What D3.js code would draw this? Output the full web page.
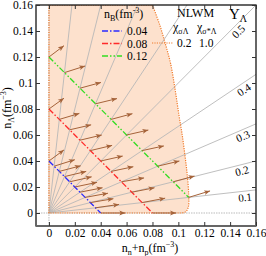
<!DOCTYPE html>
<html>
<head>
<meta charset="utf-8">
<script src="https://cdn.jsdelivr.net/npm/d3@7"></script>
<style>
  body { margin: 0; background: #fff; }
  text { font-family: "Liberation Serif", "Times New Roman", serif; fill: #000; }
</style>
</head>
<body>
<div id="chart"></div>
<script>
// ---- data ----
var nB = [0.04, 0.08, 0.12];                 // baryon density lines
var nBColors = ["#2a2aff", "#ff2a2a", "#33dd22"];
var nBDash = ["6,2,1.5,2", "6,2,1.5,2", "6,2,1.5,2,1.5,2"];
var nBxEnd = [0.04, 0.08, 0.108];           // where each line stops (boundary)

var yLambda = [0.1, 0.2, 0.3, 0.4, 0.5, 0.6, 0.7, 0.8, 0.9];   // gray rays
var yLabels = ["0.1", "0.2", "0.3", "0.4", "0.5"];
var yLabelX = [0.151, 0.148, 0.148, 0.148, 0.143];

// arrows start at Y_Lambda = 1.0, 0.9, ..., 0.0 on each nB line
var arrowY = [1.0, 0.9, 0.8, 0.7, 0.6, 0.5, 0.4, 0.3, 0.2, 0.1, 0.0];
var arrowDx = [
  [0.0116, 0.0160, 0.0165, 0.0168, 0.0170, 0.0172, 0.0174, 0.0176, 0.0178, 0.0182, 0.0190],
  [0.0116, 0.0155, 0.0166, 0.0168, 0.0168, 0.0170, 0.0172, 0.0175, 0.0176, 0.0178, 0.0182],
  [0.0116, 0.0160, 0.0162, 0.0166, 0.0165, 0.0168, 0.0168, 0.0168, 0.0165, 0.0165]
];
var arrowDy = [
  [0.0085, 0.0050, 0.0043, 0.0040, 0.0038, 0.0036, 0.0034, 0.0032, 0.0030, 0.0026, 0.0],
  [0.0083, 0.0046, 0.0038, 0.0040, 0.0040, 0.0038, 0.0036, 0.0030, 0.0034, 0.0034, 0.0],
  [0.0087, 0.0051, 0.0044, 0.0040, 0.0044, 0.0038, 0.0036, 0.0040, 0.0044, 0.0050]
];

// boundary of the shaded region (right edge, top -> bottom)
var boundX = [0.080, 0.0855, 0.0900, 0.0940, 0.0975, 0.1005, 0.1030, 0.1050, 0.1068, 0.1080, 0.1078, 0.1060, 0.1025];
var boundY = [0.160, 0.145, 0.130, 0.115, 0.095, 0.075, 0.060, 0.045, 0.030, 0.014, 0.005, 0.0012, 0.0];

var xTicks = [0, 0.02, 0.04, 0.06, 0.08, 0.1, 0.12, 0.14, 0.16];
var yTicks = [0, 0.02, 0.04, 0.06, 0.08, 0.1, 0.12, 0.14, 0.16];

var W = 266, H = 256;
var margin = {left: 36, right: 10, top: 5, bottom: 30};

var svg = d3.select("#chart").append("svg")
  .attr("width", W).attr("height", H);

var x = d3.scaleLinear().domain([-0.01, 0.16]).range([margin.left, W - margin.right]);
var y = d3.scaleLinear().domain([-0.01, 0.16]).range([H - margin.bottom, margin.top]);

var defs = svg.append("defs");
defs.append("clipPath").attr("id", "clip")
  .append("rect")
  .attr("x", x(-0.01)).attr("y", y(0.16))
  .attr("width", x(0.16) - x(-0.01)).attr("height", y(-0.01) - y(0.16));

defs.append("marker")
  .attr("id", "head")
  .attr("markerUnits", "userSpaceOnUse")
  .attr("markerWidth", 8).attr("markerHeight", 6)
  .attr("refX", 6).attr("refY", 3)
  .attr("orient", "auto")
  .append("path")
  .attr("d", "M0,0.6 L6,3 L0,5.4 L1.5,3 Z")
  .attr("fill", "#a5633a");

var plot = svg.append("g").attr("clip-path", "url(#clip)");

// shaded region: straight left/bottom edges, smooth right edge
var boundPts = boundX.map(function(d, i) { return [d, boundY[i]]; });
var curve = d3.line().x(function(d) { return x(d[0]); }).y(function(d) { return y(d[1]); })
  .curve(d3.curveCatmullRom)(boundPts);
var regionPath = "M" + x(0) + "," + y(0) + "L" + x(0) + "," + y(0.16) +
  "L" + curve.slice(1) + "Z";

plot.append("path").attr("d", regionPath).attr("fill", "#fde1cd");

// axis reference lines x=0 and y=0
plot.append("line")
  .attr("x1", x(0)).attr("x2", x(0)).attr("y1", y(-0.01)).attr("y2", y(0.16))
  .attr("stroke", "#bbb").attr("stroke-width", 1).attr("stroke-dasharray", "1.5,1");
plot.append("line")
  .attr("x1", x(-0.01)).attr("x2", x(0.16)).attr("y1", y(0)).attr("y2", y(0))
  .attr("stroke", "#bbb").attr("stroke-width", 1).attr("stroke-dasharray", "1.5,1");

// constant Y_Lambda rays
plot.selectAll(".ray").data(yLambda).enter().append("line")
  .attr("class", "ray")
  .attr("x1", x(0)).attr("y1", y(0))
  .attr("x2", function(d) { var s = d / (1 - d); var xe = Math.min(0.2, 0.2 / s); return x(xe); })
  .attr("y2", function(d) { var s = d / (1 - d); var xe = Math.min(0.2, 0.2 / s); return y(xe * s); })
  .attr("stroke", "#b8b8b8").attr("stroke-width", 0.9);

// boundary dotted orange
plot.append("path").attr("d", regionPath)
  .attr("fill", "none")
  .attr("stroke", "#f07a2a").attr("stroke-width", 1.2)
  .attr("stroke-dasharray", "1.2,1.2");

// constant nB lines
nB.forEach(function(b, i) {
  plot.append("line")
    .attr("x1", x(0)).attr("y1", y(b))
    .attr("x2", x(nBxEnd[i])).attr("y2", y(b - nBxEnd[i]))
    .attr("stroke", nBColors[i]).attr("stroke-width", 1.3)
    .attr("stroke-dasharray", nBDash[i]);
});

// arrows
nB.forEach(function(b, i) {
  arrowDx[i].forEach(function(dx, j) {
    var x0 = b * (1 - arrowY[j]), y0 = b * arrowY[j];
    plot.append("line")
      .attr("x1", x(x0)).attr("y1", y(y0))
      .attr("x2", x(x0 + dx)).attr("y2", y(y0 + arrowDy[i][j]))
      .attr("stroke", "#a5633a").attr("stroke-width", 1)
      .attr("marker-end", "url(#head)");
  });
});

// Y_Lambda labels
yLabels.forEach(function(t, i) {
  var v = +t, s = v / (1 - v);
  var px = x(yLabelX[i]), py = y(yLabelX[i] * s);
  var ang = Math.atan2(y(s) - y(0), x(1) - x(0)) * 180 / Math.PI;
  svg.append("text")
    .attr("transform", "translate(" + px + "," + py + ") rotate(" + ang + ")")
    .attr("text-anchor", "middle")
    .attr("dy", 10)
    .style("font-size", "11px")
    .text(t);
});

// frame and ticks
svg.append("rect")
  .attr("x", x(-0.01)).attr("y", y(0.16))
  .attr("width", x(0.16) - x(-0.01)).attr("height", y(-0.01) - y(0.16))
  .attr("fill", "none").attr("stroke", "#000").attr("stroke-width", 1.2);
svg.append("line")
  .attr("x1", x(-0.01)).attr("x2", x(-0.01)).attr("y1", y(0.16)).attr("y2", y(-0.01))
  .attr("stroke", "#666").attr("stroke-width", 2);
svg.append("line")
  .attr("x1", x(-0.01)).attr("x2", x(0.16)).attr("y1", y(-0.01)).attr("y2", y(-0.01))
  .attr("stroke", "#666").attr("stroke-width", 2);

var fmt = function(d) { return d === 0 ? "0" : String(+d.toFixed(2)); };

svg.append("g").attr("transform", "translate(0," + y(-0.01) + ")")
  .call(d3.axisBottom(x).tickValues(xTicks).tickSizeInner(-4).tickSizeOuter(0).tickPadding(3).tickFormat(fmt))
  .call(function(g) { g.select(".domain").remove(); g.selectAll("line").attr("stroke", "#333");
    g.selectAll("text").style("font-size", "11.5px").style("font-family", "Liberation Serif, serif"); });
svg.append("g").attr("transform", "translate(0," + y(0.16) + ")")
  .call(d3.axisTop(x).tickValues(xTicks).tickSizeInner(-4).tickSizeOuter(0).tickFormat(""))
  .call(function(g) { g.select(".domain").remove(); g.selectAll("line").attr("stroke", "#333"); });
svg.append("g").attr("transform", "translate(" + x(-0.01) + ",0)")
  .call(d3.axisLeft(y).tickValues(yTicks).tickSizeInner(-4).tickSizeOuter(0).tickPadding(3).tickFormat(fmt))
  .call(function(g) { g.select(".domain").remove(); g.selectAll("line").attr("stroke", "#333");
    g.selectAll("text").style("font-size", "11.5px").style("font-family", "Liberation Serif, serif"); });
svg.append("g").attr("transform", "translate(" + x(0.16) + ",0)")
  .call(d3.axisRight(y).tickValues(yTicks).tickSizeInner(-4).tickSizeOuter(0).tickFormat(""))
  .call(function(g) { g.select(".domain").remove(); g.selectAll("line").attr("stroke", "#333"); });

// axis titles
var xt = svg.append("text").attr("x", 150).attr("y", 252).attr("text-anchor", "middle").style("font-size", "12px");
xt.append("tspan").text("n");
xt.append("tspan").attr("dy", 3).style("font-size", "8px").text("n");
xt.append("tspan").attr("dy", -3).text("+n");
xt.append("tspan").attr("dy", 3).style("font-size", "8px").text("p");
xt.append("tspan").attr("dy", -3).text("(fm");
xt.append("tspan").attr("dy", -5).style("font-size", "8px").text("−3");
xt.append("tspan").attr("dy", 5).text(")");

var yt = svg.append("text").attr("transform", "translate(11,108) rotate(-90)")
  .attr("text-anchor", "middle").style("font-size", "12px");
yt.append("tspan").text("n");
yt.append("tspan").attr("dy", 3).style("font-size", "8px").text("Λ");
yt.append("tspan").attr("dy", -3).text("(fm");
yt.append("tspan").attr("dy", -5).style("font-size", "8px").text("−3");
yt.append("tspan").attr("dy", 5).text(")");

// legend: nB
var lt = svg.append("text").attr("x", 104).attr("y", 18).style("font-size", "12px");
lt.append("tspan").text("n");
lt.append("tspan").attr("dy", 3).style("font-size", "8px").text("B");
lt.append("tspan").attr("dy", -3).text("(fm");
lt.append("tspan").attr("dy", -5).style("font-size", "8px").text("-3");
lt.append("tspan").attr("dy", 5).text(")");

var legY = [31, 43.5, 56];
nB.forEach(function(b, i) {
  svg.append("line")
    .attr("x1", 102).attr("x2", 122).attr("y1", legY[i]).attr("y2", legY[i])
    .attr("stroke", nBColors[i]).attr("stroke-width", 1.3).attr("stroke-dasharray", nBDash[i]);
  svg.append("text").attr("x", 127).attr("y", legY[i] + 4).style("font-size", "11.5px")
    .text(b.toFixed(2));
});

// legend: NLWM
svg.append("text").attr("x", 177).attr("y", 17).style("font-size", "12px").text("NLWM");
var c1 = svg.append("text").attr("x", 173).attr("y", 31).style("font-size", "12px");
c1.append("tspan").text("χ");
c1.append("tspan").attr("dy", 3).style("font-size", "8px").text("σΛ");
var c2 = svg.append("text").attr("x", 197).attr("y", 31).style("font-size", "12px");
c2.append("tspan").text("χ");
c2.append("tspan").attr("dy", 3).style("font-size", "8px").text("σ*Λ");
svg.append("line")
  .attr("x1", 152).attr("x2", 173).attr("y1", 43).attr("y2", 43)
  .attr("stroke", "#f07a2a").attr("stroke-width", 1.2).attr("stroke-dasharray", "1.2,1.2");
svg.append("text").attr("x", 177).attr("y", 47).style("font-size", "11.5px").text("0.2");
svg.append("text").attr("x", 199).attr("y", 47).style("font-size", "11.5px").text("1.0");

// Y_Lambda title
var yl = svg.append("text").attr("x", 229).attr("y", 19).style("font-size", "15px");
yl.append("tspan").text("Y");
yl.append("tspan").attr("dy", 3).style("font-size", "10px").text("Λ");
</script>
</body>
</html>
